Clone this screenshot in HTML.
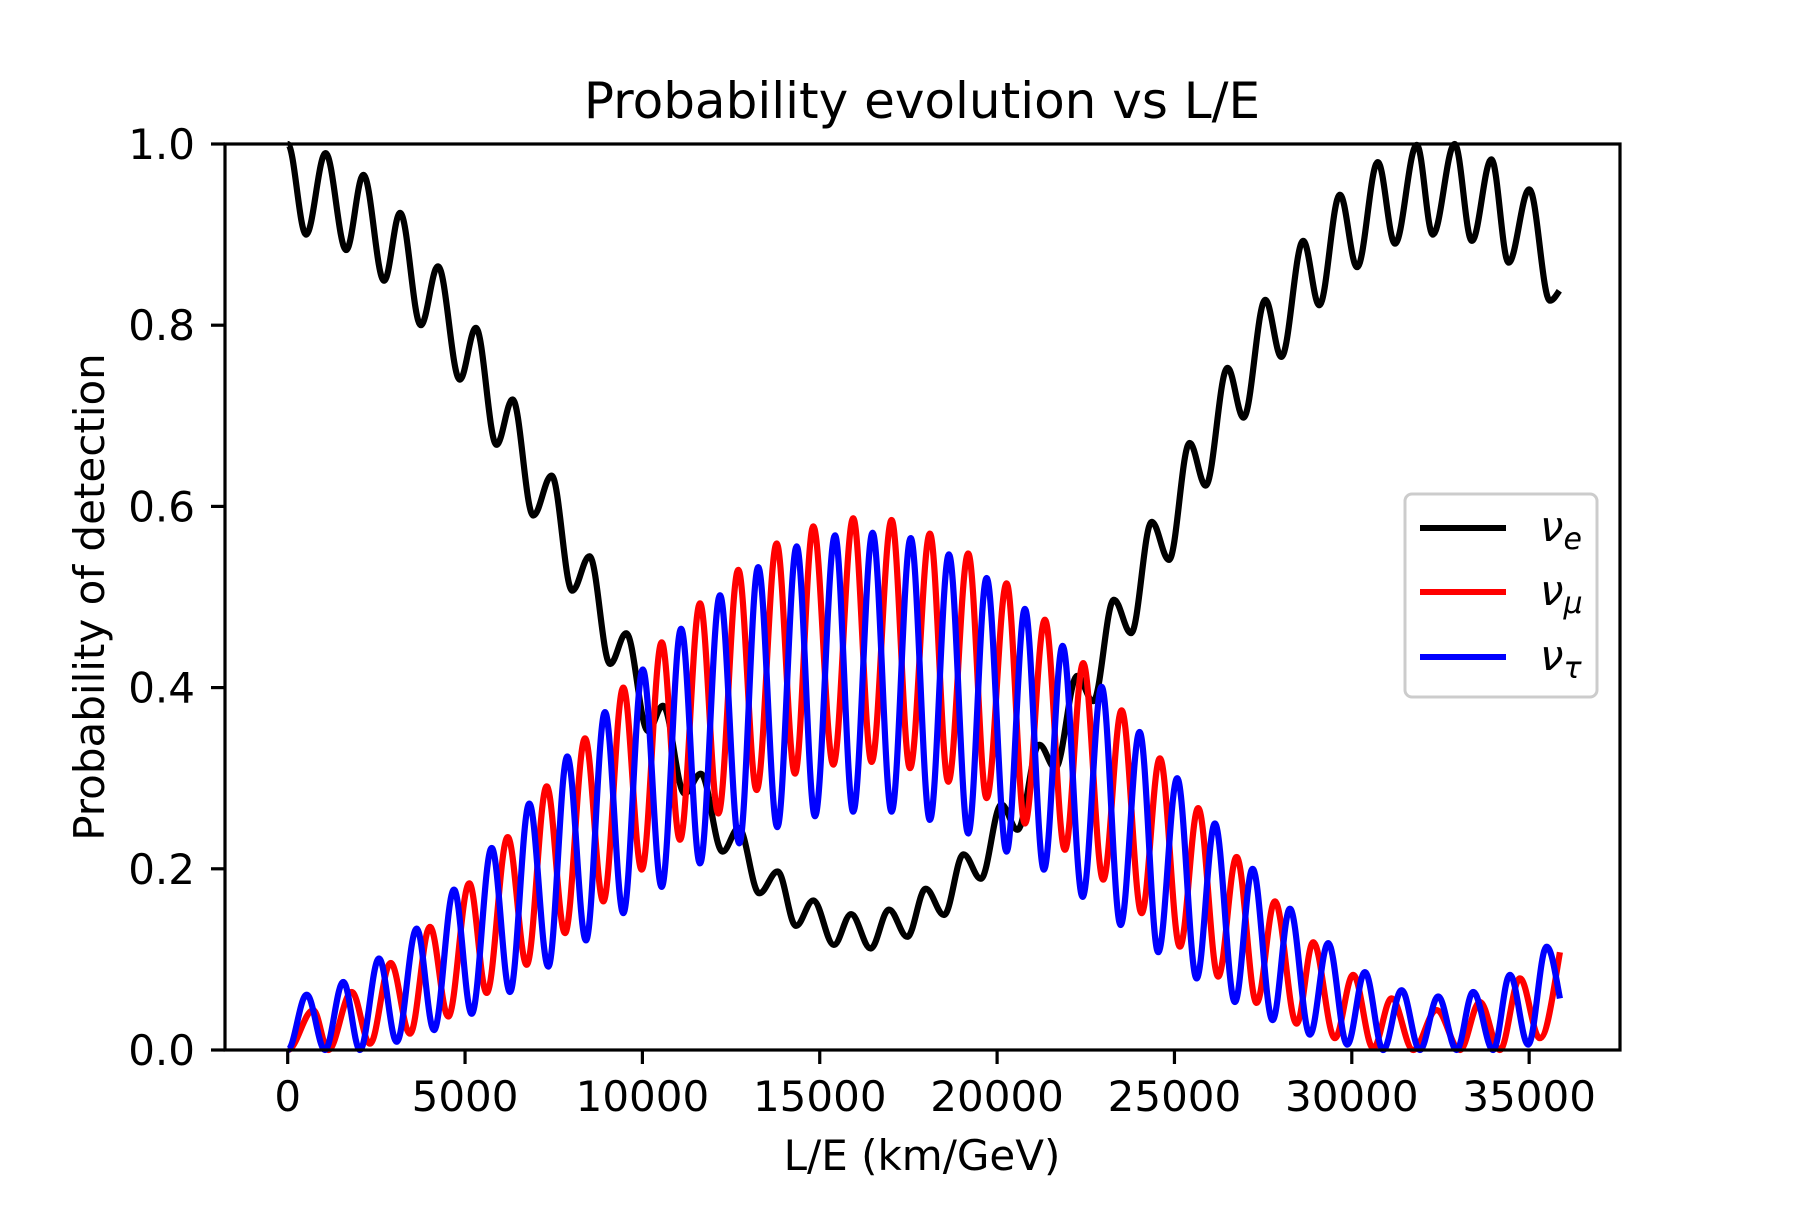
<!DOCTYPE html>
<html><head><meta charset="utf-8"><style>
html,body{margin:0;padding:0;background:#fff}
svg text{font-family:"DejaVu Sans","Liberation Sans",sans-serif;fill:#000}
</style></head><body>
<svg id="chart" width="1800" height="1200" viewBox="0 0 1800 1200" xmlns="http://www.w3.org/2000/svg">
<rect x="0" y="0" width="1800" height="1200" fill="#fff"/>
<text x="922" y="118" font-size="50" text-anchor="middle">Probability evolution vs L/E</text>
<g id="plot"></g>
<rect x="225" y="144" width="1395" height="906" fill="none" stroke="#000" stroke-width="3.2"/>
<g id="xt"></g>
<g id="yt"></g>
<text x="922" y="1170" font-size="42" text-anchor="middle">L/E (km/GeV)</text>
<text transform="translate(104,597) rotate(-90)" font-size="42" text-anchor="middle">Probability of detection</text>
<g>
<rect x="1405" y="494" width="192" height="203" rx="7" fill="#fff" fill-opacity="0.8" stroke="#ccc" stroke-width="3"/>
<line x1="1420" y1="528" x2="1506" y2="528" stroke="#000" stroke-width="6"/>
<text x="1540" y="541" font-size="42" font-style="italic">ν<tspan font-size="30" dy="8">e</tspan></text>
<line x1="1420" y1="592" x2="1506" y2="592" stroke="#f00" stroke-width="6"/>
<text x="1540" y="605" font-size="42" font-style="italic">ν<tspan font-size="30" dy="8">μ</tspan></text>
<line x1="1420" y1="657" x2="1506" y2="657" stroke="#00f" stroke-width="6"/>
<text x="1540" y="670" font-size="42" font-style="italic">ν<tspan font-size="30" dy="8">τ</tspan></text>
</g>
</svg>
<script>
// Data: extrema of each curve (L/E in km/GeV, probability)
const xTicks = [0,5000,10000,15000,20000,25000,30000,35000];
const yTicks = [0.0,0.2,0.4,0.6,0.8,1.0];
const eL = [0,518,1068,1650,2135,2717,3170,3753,4238,4853,5305,5888,6341,6923,7441,8023,8508,9090,9543,10158,10578,11193,11646,12261,12714,13296,13813,14331,14816,15399,15884,16434,16951,17469,17986,18504,19054,19540,20122,20575,21189,21642,22257,22710,23292,23777,24360,24845,25427,25880,26495,26948,27562,28015,28630,29083,29665,30150,30733,31218,31832,32285,32900,33385,33935,34420,35003,35585,35850];
const eP = [1.0,.90,.99,.883,.966,.849,.924,.80,.865,.74,.797,.668,.718,.59,.634,.507,.545,.426,.46,.352,.38,.283,.305,.219,.245,.173,.197,.137,.165,.116,.15,.112,.155,.125,.178,.149,.216,.189,.271,.243,.337,.311,.413,.385,.497,.46,.583,.541,.67,.623,.753,.698,.828,.765,.893,.822,.944,.864,.98,.89,.999,.90,1.0,.893,.983,.869,.95,.827,.838];
const muPeakL = [722,1804,2904,4012,5119,6202,7301,8381,9461,10543,11623,12703,13785,14817,15944,17027,18106,19186,20269,21348,22428,23510,24591,25670,26752,27832,28913,30040,31122,32390,33611,34738];
const muPeakP = [.044,.064,.096,.136,.184,.235,.291,.344,.40,.45,.493,.53,.559,.578,.587,.585,.570,.548,.515,.475,.427,.375,.322,.267,.213,.164,.119,.083,.057,.044,.053,.079];
const muTroughL = [0,1145,2320,3448,4527,5610,6738,7817,8897,9979,11059,12139,13221,14301,15381,16463,17543,18623,19705,20785,21912,22992,24074,25154,26234,27316,28444,29523,30603,31731,33047,34175,35303];
const muTroughP = [0,0,.007,.018,.037,.063,.094,.129,.164,.199,.232,.261,.287,.305,.315,.318,.311,.296,.278,.250,.221,.188,.151,.114,.081,.052,.029,.013,.002,0,0,0,.013];
const muEnd = [35866,.108];
const tauPeakL = [536,1567,2574,3637,4688,5751,6811,7882,8945,10010,11090,12187,13266,14349,15429,16491,17563,18642,19705,20785,21848,22947,24017,25078,26140,27203,28255,29335,30370,31405,32436,33423,34457,35491];
const tauPeakP = [.061,.075,.101,.134,.177,.223,.272,.324,.373,.42,.465,.502,.533,.556,.568,.571,.565,.547,.521,.487,.446,.401,.351,.30,.25,.20,.156,.118,.086,.066,.059,.064,.083,.114];
const tauTroughL = [0,1052,2038,3073,4124,5187,6266,7346,8409,9461,10543,11623,12731,13802,14865,15944,17027,18106,19186,20269,21320,22411,23482,24543,25625,26705,27768,28819,29871,30886,31920,32955,33987,34973];
const tauTroughP = [0,0,0,.009,.022,.04,.064,.092,.121,.151,.18,.206,.228,.246,.258,.263,.263,.254,.239,.219,.199,.169,.138,.108,.079,.053,.033,.017,.006,0,0,0,0,.006];
const tauEnd = [35866,.057];

const X0=287.7, XS=35.47/1000, Y0=1050, YS=906;
const sx = v => X0 + v*XS;
const sy = v => Y0 - v*YS;
const NS="http://www.w3.org/2000/svg";

function merge(tl,tp,pl,pp,end){
  const pts=[];
  for(let i=0;i<tl.length;i++) pts.push([tl[i],tp[i]]);
  for(let i=0;i<pl.length;i++) pts.push([pl[i],pp[i]]);
  pts.sort((a,b)=>a[0]-b[0]);
  if(end) pts.push(end);
  return pts;
}
function pathFrom(pts,lastFree){
  let d="M"+sx(pts[0][0]).toFixed(1)+","+sy(pts[0][1]).toFixed(1);
  for(let i=1;i<pts.length;i++){
    const x0=sx(pts[i-1][0]),y0=sy(pts[i-1][1]),x1=sx(pts[i][0]),y1=sy(pts[i][1]);
    const dx=x1-x0;
    d+=` C${(x0+dx*0.36).toFixed(1)},${y0.toFixed(1)} ${(x1-dx*0.36).toFixed(1)},${(lastFree&&i===pts.length-1)?((y0+y1)/2).toFixed(1):y1.toFixed(1)} ${x1.toFixed(1)},${y1.toFixed(1)}`;
  }
  return d;
}
const plot=document.getElementById('plot');
function addLine(pts,color,name){
  const p=document.createElementNS(NS,'path');
  p.setAttribute('d',pathFrom(pts,true));
  p.setAttribute('fill','none');
  p.setAttribute('stroke',color);
  p.setAttribute('stroke-width','6.2');
  p.setAttribute('stroke-linejoin','round');
  
  
  plot.appendChild(p);
}
const ePts = eL.map((l,i)=>[l,eP[i]]);
addLine(ePts,'#000','line-nu-e');
addLine(merge(muTroughL,muTroughP,muPeakL,muPeakP,muEnd),'#f00','line-nu-mu');
addLine(merge(tauTroughL,tauTroughP,tauPeakL,tauPeakP,tauEnd),'#00f','line-nu-tau');

const xt=document.getElementById('xt');
xTicks.forEach(v=>{
  const l=document.createElementNS(NS,'line');
  l.setAttribute('x1',sx(v));l.setAttribute('x2',sx(v));
  l.setAttribute('y1',1050);l.setAttribute('y2',1064);
  l.setAttribute('stroke','#000');l.setAttribute('stroke-width','3.2');
  
  
  xt.appendChild(l);
  const t=document.createElementNS(NS,'text');
  t.setAttribute('x',sx(v));t.setAttribute('y',1111);
  t.setAttribute('font-size','42');t.setAttribute('text-anchor','middle');
  t.textContent=String(v);
  
  
  xt.appendChild(t);
});
const yt=document.getElementById('yt');
yTicks.forEach(v=>{
  const l=document.createElementNS(NS,'line');
  l.setAttribute('x1',211);l.setAttribute('x2',225);
  l.setAttribute('y1',sy(v));l.setAttribute('y2',sy(v));
  l.setAttribute('stroke','#000');l.setAttribute('stroke-width','3.2');
  
  
  yt.appendChild(l);
  const t=document.createElementNS(NS,'text');
  t.setAttribute('x',195);t.setAttribute('y',sy(v)+15);
  t.setAttribute('font-size','42');t.setAttribute('text-anchor','end');
  t.textContent=v.toFixed(1);
  
  
  yt.appendChild(t);
});
</script>
</body></html>
